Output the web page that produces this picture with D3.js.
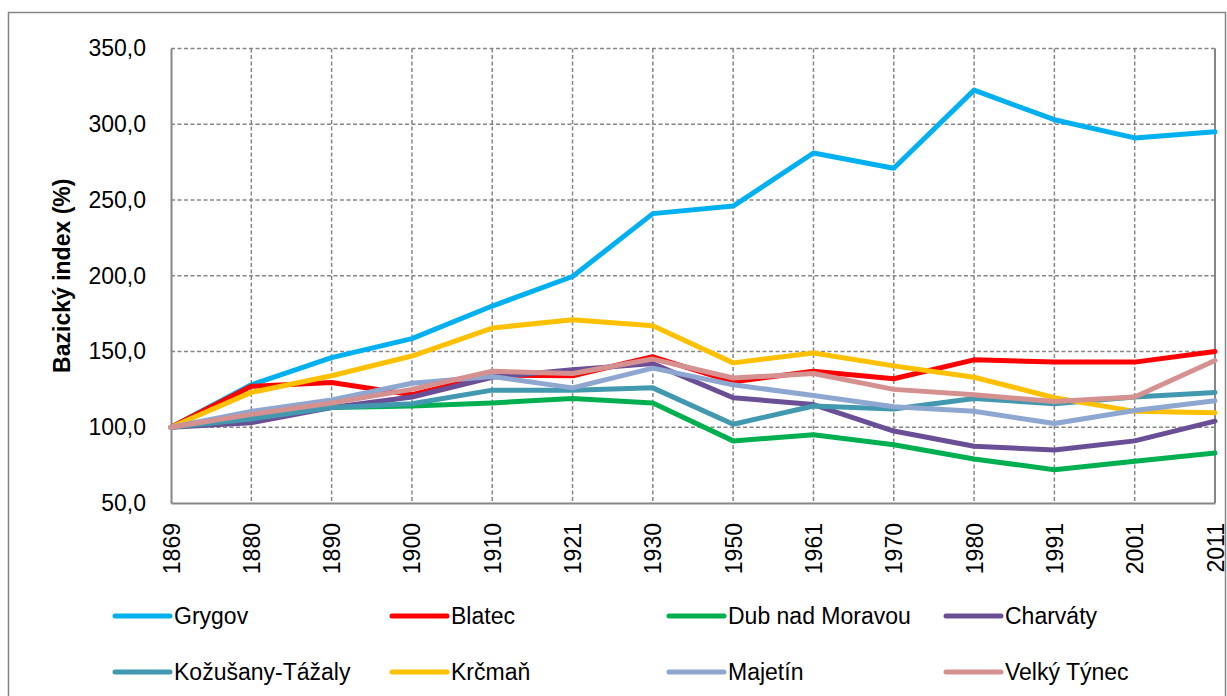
<!DOCTYPE html>
<html lang="cs">
<head>
<meta charset="UTF-8">
<title>Bazický index</title>
<script src="https://d3js.org/d3.v7.min.js"></script>
<style>
  body { margin: 0; background: #fff; }
  svg text { font-family: "Liberation Sans", Arial, sans-serif; fill: #000; }
</style>
</head>
<body>
<div id="chart"></div>
<script>
// years (categories on x axis)
var years = ["1869", "1880", "1890", "1900", "1910", "1921", "1930", "1950", "1961", "1970", "1980", "1991", "2001", "2011"];

// series values, index 1869 = 100
var grygov     = [100, 128, 146, 158.5, 180, 199.5, 241, 246, 281, 271, 322.5, 303, 291, 295];
var blatec     = [100, 127, 129.5, 121.5, 134.5, 134, 146.5, 130, 137, 132, 144.5, 143, 143, 150];
var dubNadMor  = [100, 106, 113, 114, 116, 119, 116, 91, 95, 88.5, 79, 72, 77.5, 83];
var charvaty   = [100, 103, 113, 120, 133, 138, 142, 119.5, 115, 97.5, 87.5, 85, 91, 104];
var kozusany   = [100, 105.5, 113, 115.5, 124.5, 124.5, 126, 102, 114, 112, 119, 115.5, 120, 123];
var krcman     = [100, 123, 134, 147, 165.5, 171, 167, 142.5, 149, 140.5, 133, 119.5, 110.5, 109.5];
var majetin    = [100, 110.5, 118, 129, 133.5, 126, 139, 128, 121, 113.5, 110.5, 102.5, 111, 117.5];
var velkyTynec = [100, 108.5, 116, 125, 137, 135.5, 145, 132.5, 135.5, 125, 121.5, 117, 120, 144];

var seriesNames  = ["Grygov", "Blatec", "Dub nad Moravou", "Charváty", "Kožušany-Tážaly", "Krčmaň", "Majetín", "Velký Týnec"];
var seriesValues = [grygov, blatec, dubNadMor, charvaty, kozusany, krcman, majetin, velkyTynec];
var seriesColors = ["#00B0F0", "#FF0000", "#00B050", "#6B4F96", "#4198AF", "#FFC000", "#8EA7D0", "#D59190"];

var yTicks = [50, 100, 150, 200, 250, 300, 350];

var width = 1227, height = 696;
// plot area edges
var plotL = 171, plotR = 1215, plotT = 48.5, plotB = 503;
var grey = "#868686";

var svg = d3.select("#chart").append("svg")
    .attr("width", width)
    .attr("height", height);

// outer chart border
svg.append("rect")
    .attr("x", 8.5).attr("y", 12.5)
    .attr("width", 1217).attr("height", 720)
    .attr("fill", "none")
    .attr("stroke", grey)
    .attr("stroke-width", 1.5);

var x = d3.scalePoint().domain(years).range([plotL, plotR]);
var y = d3.scaleLinear().domain([50, 350]).range([plotB, plotT]);

// horizontal gridlines
svg.append("g")
    .selectAll("line")
    .data(yTicks.slice(1))
    .enter().append("line")
    .attr("x1", plotL).attr("x2", plotR)
    .attr("y1", function(d) { return y(d); })
    .attr("y2", function(d) { return y(d); })
    .attr("stroke", grey)
    .attr("stroke-width", 1.5)
    .attr("stroke-dasharray", "4,2.5");

// vertical gridlines
svg.append("g")
    .selectAll("line")
    .data(years.slice(1, years.length - 1))
    .enter().append("line")
    .attr("x1", function(d) { return x(d); })
    .attr("x2", function(d) { return x(d); })
    .attr("y1", plotT).attr("y2", plotB)
    .attr("stroke", grey)
    .attr("stroke-width", 1.5)
    .attr("stroke-dasharray", "4,2.5");

// right edge of plot
svg.append("line")
    .attr("x1", plotR).attr("x2", plotR)
    .attr("y1", plotT).attr("y2", plotB)
    .attr("stroke", grey).attr("stroke-width", 2);

// y axis
var yAxis = d3.axisLeft(y)
    .tickValues(yTicks)
    .tickSize(0)
    .tickPadding(25)
    .tickFormat(function(d) { return d3.format(".1f")(d).replace(".", ","); });

var gy = svg.append("g")
    .attr("transform", "translate(" + plotL + ",0)")
    .call(yAxis);
gy.select(".domain").attr("stroke", grey).attr("stroke-width", 2);
gy.selectAll("text").style("font-size", "23px");

// x axis
var xAxis = d3.axisBottom(x).tickSize(0).tickPadding(0);
var gx = svg.append("g")
    .attr("transform", "translate(0," + plotB + ")")
    .call(xAxis);
gx.select(".domain").attr("stroke", grey).attr("stroke-width", 2);
gx.selectAll("text")
    .style("font-size", "23px")
    .attr("text-anchor", "end")
    .attr("transform", "rotate(-90)")
    .attr("x", -20)
    .attr("y", 0)
    .attr("dy", "0.35em");

// y axis title
svg.append("text")
    .attr("transform", "translate(62," + ((plotT + plotB) / 2) + ") rotate(-90)")
    .attr("text-anchor", "middle")
    .attr("dy", "0.35em")
    .style("font-size", "23px")
    .style("font-weight", "bold")
    .text("Bazický index (%)");

// series lines
var line = d3.line()
    .x(function(d, i) { return x(years[i]); })
    .y(function(d) { return y(d); });

svg.append("g")
    .selectAll("path")
    .data(seriesValues)
    .enter().append("path")
    .attr("d", line)
    .attr("fill", "none")
    .attr("stroke", function(d, i) { return seriesColors[i]; })
    .attr("stroke-width", 5)
    .attr("stroke-linejoin", "round")
    .attr("stroke-linecap", "round");

// legend
var legend = svg.append("g")
    .selectAll("g")
    .data(seriesNames)
    .enter().append("g")
    .attr("transform", function(d, i) {
        return "translate(" + (115 + (i % 4) * 277) + "," + (616 + Math.floor(i / 4) * 56) + ")";
    });

legend.append("line")
    .attr("x1", 0).attr("x2", 55)
    .attr("y1", 0).attr("y2", 0)
    .attr("stroke", function(d, i) { return seriesColors[i]; })
    .attr("stroke-width", 5)
    .attr("stroke-linecap", "round");

legend.append("text")
    .attr("x", 59)
    .attr("dy", "0.35em")
    .style("font-size", "23px")
    .text(function(d) { return d; });
</script>
</body>
</html>
